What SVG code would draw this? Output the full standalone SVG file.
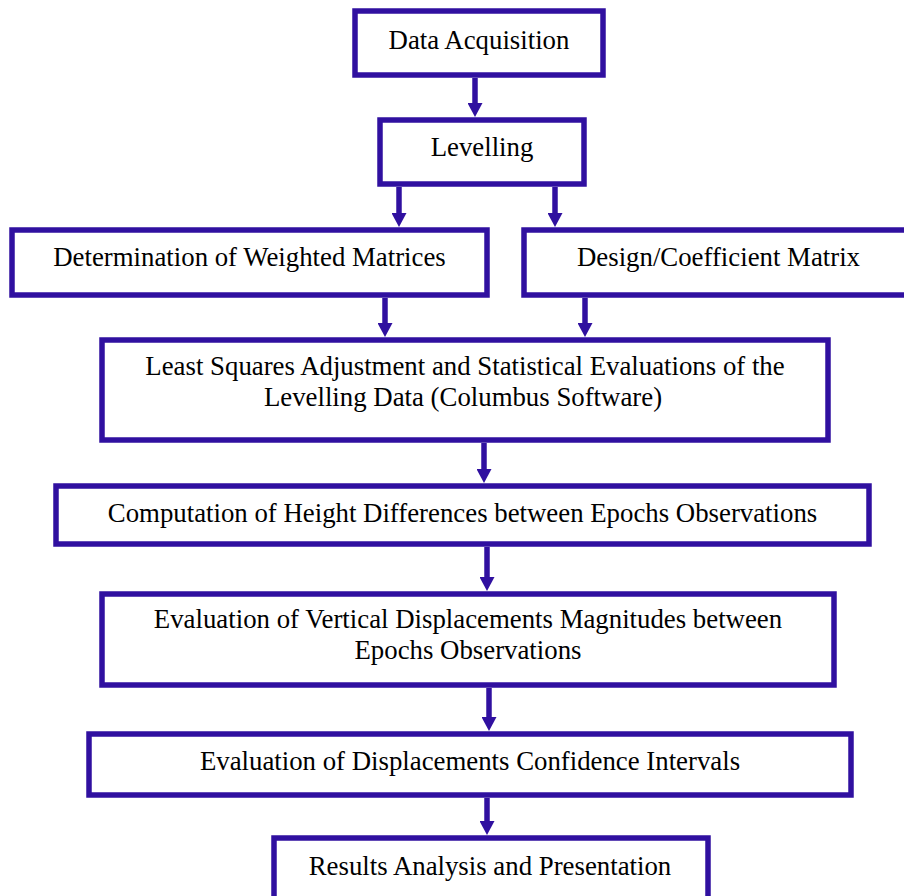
<svg xmlns="http://www.w3.org/2000/svg" width="904" height="896" viewBox="0 0 904 896">
<style>
.box{fill:#ffffff;stroke:#3010a0;stroke-width:5.5}
.lbl{font-family:"Liberation Serif","Times New Roman",serif;font-size:26.8px;fill:#000000;text-anchor:middle}
.con{stroke:#3010a0;stroke-width:5.5;fill:none;marker-end:url(#ah)}
</style>
<defs>
<marker id="ah" viewBox="0 0 14 15" refX="4" refY="7.5" markerWidth="14" markerHeight="15" markerUnits="userSpaceOnUse" orient="auto">
<path d="M0,0 L14,7.5 L0,15 Z" fill="#3010a0"/>
</marker>
</defs>
<rect width="904" height="896" fill="#ffffff"/>
<g id="connectors">
<line class="con" x1="475" y1="78" x2="475" y2="107"/>
<line class="con" x1="399" y1="187" x2="399" y2="217"/>
<line class="con" x1="555" y1="187" x2="555" y2="217"/>
<line class="con" x1="385" y1="298" x2="385" y2="327"/>
<line class="con" x1="585" y1="298" x2="585" y2="327"/>
<line class="con" x1="484" y1="443" x2="484" y2="473"/>
<line class="con" x1="487" y1="547" x2="487" y2="581"/>
<line class="con" x1="489" y1="688" x2="489" y2="721"/>
<line class="con" x1="487" y1="798" x2="487" y2="825"/>
</g>
<g id="n1"><rect class="box" x="355" y="11" width="248" height="64"/><text class="lbl" x="479" y="49">Data Acquisition</text></g>
<g id="n2"><rect class="box" x="380" y="120" width="204" height="64"/><text class="lbl" x="482" y="156">Levelling</text></g>
<g id="n3"><rect class="box" x="12" y="230" width="475" height="65"/><text class="lbl" x="249.5" y="266">Determination of Weighted Matrices</text></g>
<g id="n4"><rect class="box" x="524" y="230" width="390" height="65"/><text class="lbl" x="718.5" y="266">Design/Coefficient Matrix</text></g>
<g id="n5"><rect class="box" x="102" y="340" width="726" height="100"/><text class="lbl" x="465" y="375">Least Squares Adjustment and Statistical Evaluations of the</text><text class="lbl" x="463" y="406">Levelling Data (Columbus Software)</text></g>
<g id="n6"><rect class="box" x="56" y="486" width="813" height="58"/><text class="lbl" x="462.5" y="522">Computation of Height Differences between Epochs Observations</text></g>
<g id="n7"><rect class="box" x="102" y="594" width="732" height="91"/><text class="lbl" x="468" y="628">Evaluation of Vertical Displacements Magnitudes between</text><text class="lbl" x="468" y="659">Epochs Observations</text></g>
<g id="n8"><rect class="box" x="89" y="734" width="762" height="61"/><text class="lbl" x="470" y="770">Evaluation of Displacements Confidence Intervals</text></g>
<g id="n9"><rect class="box" x="274" y="838" width="434" height="70"/><text class="lbl" x="490" y="875">Results Analysis and Presentation</text></g>
</svg>
